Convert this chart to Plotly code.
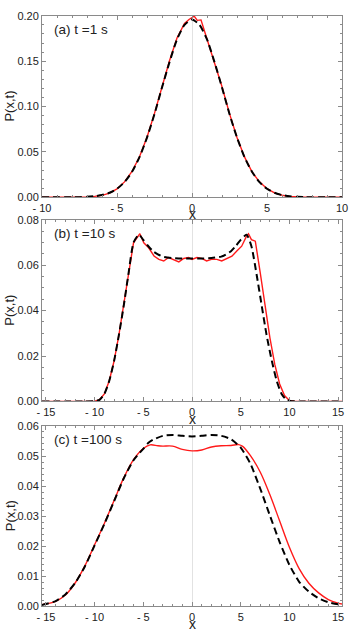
import plotly.graph_objects as go

# ---------------- data ----------------
# panel (a) t = 1 s
xa = [-10, -9.5, -9, -8.5, -8, -7.5, -7, -6.5, -6, -5.5, -5, -4.5, -4, -3.5, -3, -2.5, -2, -1.5, -1, -0.5,
      0, 0.5, 1, 1.5, 2, 2.5, 3, 3.5, 4, 4.5, 5, 5.5, 6, 6.5, 7, 7.5, 8, 8.5, 9, 9.5, 10]
pa_theory = [0, 0, 0, 0, 0.0001, 0.0002, 0.0005, 0.0012, 0.0025, 0.0050, 0.0094, 0.0168, 0.0281, 0.0443,
             0.0658, 0.0918, 0.121, 0.149, 0.174, 0.190, 0.196, 0.190, 0.174, 0.149, 0.121, 0.0918, 0.0658,
             0.0443, 0.0281, 0.0168, 0.0094, 0.0050, 0.0025, 0.0012, 0.0005, 0.0002, 0.0001, 0, 0, 0, 0]
xa_sim = [-10, -9.5, -9, -8.5, -8, -7.5, -7, -6.5, -6, -5.5, -5, -4.5, -4, -3.5, -3, -2.5, -2, -1.5, -1, -0.5,
          -0.2, 0, 0.15, 0.35, 0.6, 0.8, 1, 1.5, 2, 2.5, 3, 3.5, 4, 4.5, 5, 5.5, 6, 6.5, 7, 7.5, 8, 8.5, 9,
          9.5, 10]
pa_sim = [0, 0, 0, 0, 0.0001, 0.0002, 0.0004, 0.0010, 0.0022, 0.0047, 0.0093, 0.0170, 0.0285, 0.0447,
          0.0662, 0.0925, 0.1222, 0.1505, 0.1755, 0.1915, 0.1960, 0.1985, 0.1995, 0.1950, 0.1955, 0.1850,
          0.1745, 0.1500, 0.1218, 0.0922, 0.0660, 0.0445, 0.0280, 0.0170, 0.0095, 0.0049, 0.0023, 0.0010,
          0.0004, 0.0002, 0.0001, 0, 0, 0, 0]

# panel (b) t = 10 s
xb = [-15.4, -11, -10, -9.5, -9, -8.5, -8, -7.5, -7, -6.5, -6, -5.45, -5, -4.5, -4, -3.5, -3, -2, -1, 0,
      1, 2, 3, 3.5, 4, 4.5, 5, 5.6, 6.1, 6.65, 7.15, 7.65, 8.2, 8.7, 9.2, 9.7, 10.2, 11, 15.4]
pb_theory = [0, 0, 0.0001, 0.0007, 0.0033, 0.009, 0.0178, 0.0294, 0.0424, 0.0569, 0.0700, 0.0735, 0.0712,
             0.0685, 0.0662, 0.0648, 0.0638, 0.0632, 0.0630, 0.0630, 0.0630, 0.0632, 0.0638, 0.0648, 0.0662,
             0.0685, 0.0712, 0.0735, 0.0684, 0.0555, 0.0424, 0.0294, 0.0178, 0.009, 0.0033, 0.0007, 0.0001,
             0, 0]
xb_sim = [-15.4, -11, -10, -9.5, -9, -8.5, -8, -7.5, -7, -6.5, -6, -5.35, -4.95, -4.45, -3.9, -3.4, -2.9,
          -2.4, -1.9, -1.35, -0.85, -0.35, 0, 0.5, 1.0, 1.5, 2.0, 2.55, 3.05, 3.6, 4.1, 4.6, 5.1, 5.6, 5.8,
          6.1, 6.5, 7.0, 7.5, 8.0, 8.5, 9.0, 9.5, 10, 10.5, 11, 15.4]
pb_sim = [0, 0, 0.0001, 0.0007, 0.0033, 0.009, 0.0178, 0.0294, 0.0424, 0.0569, 0.0700, 0.0739, 0.0699,
          0.0677, 0.0641, 0.0626, 0.0619, 0.0634, 0.0626, 0.0615, 0.0630, 0.0634, 0.0626, 0.0634, 0.0630,
          0.0619, 0.0626, 0.0626, 0.0619, 0.0630, 0.0640, 0.0663, 0.0684, 0.0728, 0.0739, 0.0713, 0.0706,
          0.0569, 0.0424, 0.0280, 0.0163, 0.0077, 0.0026, 0.0004, 0.0001, 0, 0]

# panel (c) t = 100 s
xc = [-15.4, -15, -14, -13, -12, -11, -10, -9, -8, -7, -6, -5, -4.5, -4, -3, -2, -1, 0, 1, 2, 3, 4, 5, 6,
      7, 8, 9, 10, 11, 12, 13, 14, 15, 15.4]
pc_theory = [0.0005, 0.0008, 0.0018, 0.0040, 0.0078, 0.0133, 0.0203, 0.0274, 0.0350, 0.0426, 0.0486, 0.0524,
             0.0543, 0.0554, 0.0567, 0.0570, 0.0567, 0.0565, 0.0567, 0.0570, 0.0567, 0.0556, 0.0528, 0.0474,
             0.0392, 0.0302, 0.0214, 0.0138, 0.0082, 0.0049, 0.0027, 0.0014, 0.0007, 0.0005]
xc_sim = [-15.4, -15, -14, -13, -12, -11, -10, -9, -8, -7, -6, -5, -4.3, -3.5, -3, -2, -1, 0, 1, 2, 3, 4,
          4.8, 5.2, 6, 7, 8, 9, 10, 11, 12, 13, 14, 15, 15.4]
pc_sim = [0.0006, 0.0008, 0.0017, 0.0038, 0.0078, 0.0135, 0.0205, 0.0276, 0.0352, 0.0428, 0.0488, 0.0525,
          0.0537, 0.0534, 0.0533, 0.0533, 0.0522, 0.0517, 0.0520, 0.0530, 0.0534, 0.0535, 0.0538, 0.0532,
          0.0501, 0.0447, 0.0371, 0.0284, 0.0197, 0.0126, 0.0077, 0.0045, 0.0023, 0.0011, 0.0008]

panel_labels = ["(a) t =1 s", "(b) t =10 s", "(c) t =100 s"]
xticks_a = [-10, -5, 0, 5, 10]
xticktext_a = ["- 10", "- 5", "0", "5", "10"]
xticks_bc = [-15, -10, -5, 0, 5, 10, 15]
xticktext_bc = ["- 15", "- 10", "- 5", "0", "5", "10", "15"]
yticks_a = [0, 0.05, 0.10, 0.15, 0.20]
yticks_b = [0, 0.02, 0.04, 0.06, 0.08]
yticks_c = [0, 0.01, 0.02, 0.03, 0.04, 0.05, 0.06]

# ---------------- figure ----------------
W, H = 349, 636
L, R = 42, 7
FONT = "Liberation Sans, Arial, sans-serif"
frame = "#8a8a8a"
txt = "#222222"

panels = [
    dict(x_t=xa, y_t=pa_theory, x_s=xa_sim, y_s=pa_sim, xr=[-10, 10], yr=[0, 0.2],
         xt=xticks_a, xtt=xticktext_a, yt=yticks_a, ymin=0.01, top=10, bot=195, xlab=212),
    dict(x_t=xb, y_t=pb_theory, x_s=xb_sim, y_s=pb_sim, xr=[-15.4, 15.4], yr=[0, 0.08],
         xt=xticks_bc, xtt=xticktext_bc, yt=yticks_b, ymin=0.005, top=218, bot=403, xlab=421),
    dict(x_t=xc, y_t=pc_theory, x_s=xc_sim, y_s=pc_sim, xr=[-15.4, 15.4], yr=[0, 0.06],
         xt=xticks_bc, xtt=xticktext_bc, yt=yticks_c, ymin=0.002, top=428, bot=612, xlab=630),
]

fig = go.Figure()
annotations = []
for i, p in enumerate(panels):
    k = "" if i == 0 else str(i + 1)
    xref, yref = "x" + k, "y" + k
    fig.add_trace(go.Scatter(x=p["x_s"], y=p["y_s"], mode="lines", xaxis=xref, yaxis=yref,
                             line=dict(color="#ff1a1a", width=1.4,
                                       shape="linear" if i < 2 else "spline"),
                             showlegend=False, hoverinfo="skip"))
    fig.add_trace(go.Scatter(x=p["x_t"], y=p["y_t"], mode="lines", xaxis=xref, yaxis=yref,
                             line=dict(color="black", width=2, dash="7px,4px", shape="spline",
                                       smoothing=0.6),
                             showlegend=False, hoverinfo="skip"))
    ydom = [1 - p["bot"] / H, 1 - p["top"] / H]
    axcommon = dict(showline=True, linecolor=frame, linewidth=1, mirror="ticks", ticks="inside",
                    tickcolor=frame, ticklen=4, tickwidth=1, showgrid=False,
                    ticklabeloverflow="allow",
                    tickfont=dict(family=FONT, size=11, color=txt), fixedrange=True)
    fig.layout["xaxis" + k] = dict(
        axcommon, domain=[0, 1], anchor=yref, range=p["xr"], tickmode="array",
        tickvals=p["xt"], ticktext=p["xtt"], zeroline=True, zerolinecolor="#e2e2e2",
        zerolinewidth=1,
        minor=dict(ticks="inside", dtick=1, ticklen=2, tickcolor=frame, showgrid=False))
    fig.layout["yaxis" + k] = dict(
        axcommon, domain=ydom, anchor=xref, range=p["yr"], tickmode="array",
        tickvals=p["yt"], ticktext=["%.2f" % v for v in p["yt"]], zeroline=False,
        minor=dict(ticks="inside", dtick=p["ymin"], ticklen=2, tickcolor=frame, showgrid=False))
    annotations.append(dict(text=panel_labels[i], xref="paper", yref="paper",
                            x=(52 - L) / (W - L - R), y=1 - (p["top"] + 14) / H,
                            xanchor="left", yanchor="middle", showarrow=False,
                            font=dict(family=FONT, size=13.5, color=txt)))
    annotations.append(dict(text="P(x,t)", xref="paper", yref="paper",
                            x=(10 - L) / (W - L - R), y=1 - (p["top"] + p["bot"]) / 2 / H,
                            xanchor="center", yanchor="middle", textangle=-90, showarrow=False,
                            font=dict(family=FONT, size=13, color=txt)))
    annotations.append(dict(text="x", xref="paper", yref="paper",
                            x=0.5, y=1 - p["xlab"] / H, xanchor="center", yanchor="middle",
                            showarrow=False, font=dict(family=FONT, size=14, color=txt)))

fig.update_layout(width=W, height=H, margin=dict(l=L, r=R, t=0, b=0),
                  paper_bgcolor="white", plot_bgcolor="white", annotations=annotations,
                  font=dict(family=FONT))
fig.write_html("out.html", config={"displayModeBar": False},
               post_script="document.body.style.margin='0';")
